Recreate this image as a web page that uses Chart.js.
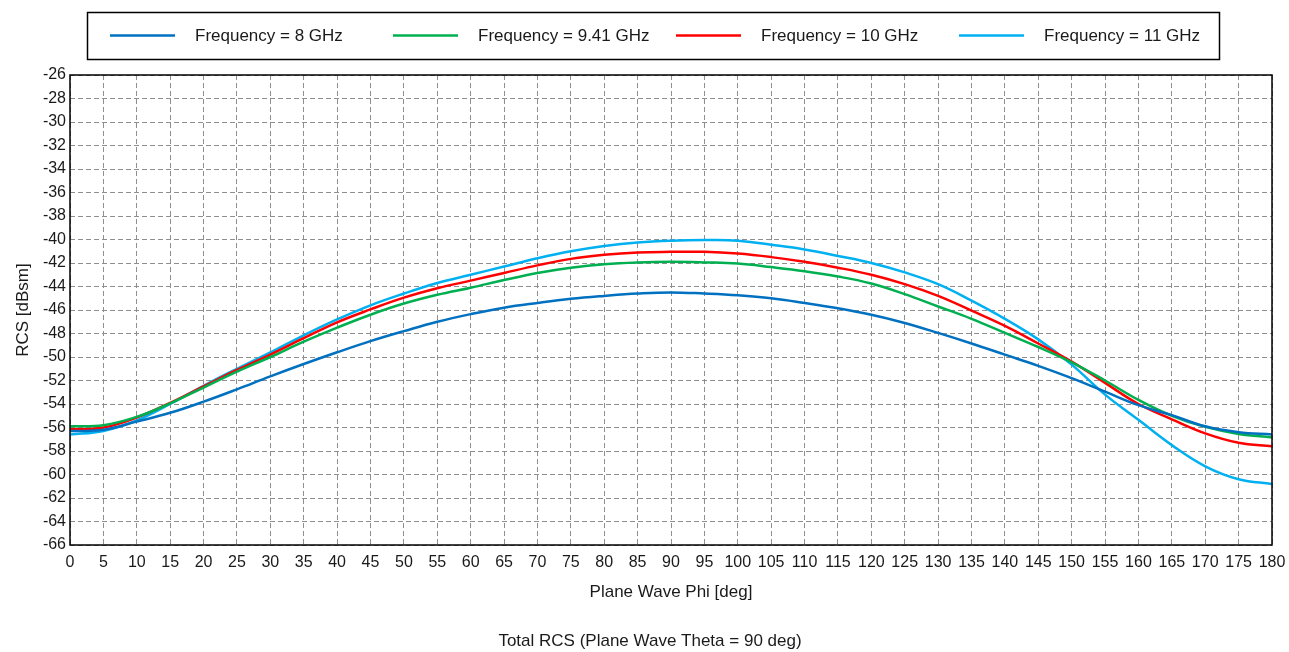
<!DOCTYPE html>
<html>
<head>
<meta charset="utf-8">
<title>Total RCS</title>
<script src="https://cdn.jsdelivr.net/npm/chart.js@4.4.1/dist/chart.umd.min.js"></script>
<style>
  html, body { margin: 0; padding: 0; background: #fff; }
  #wrap { width: 1289px; height: 652px; }
</style>
</head>
<body>
<div id="wrap"><canvas id="rcs" width="1289" height="652"></canvas></div>
<script>
// plane wave phi sweep, step 5 deg
const phi = [0, 5, 10, 15, 20, 25, 30, 35, 40, 45, 50, 55, 60, 65, 70, 75, 80, 85, 90,
             95, 100, 105, 110, 115, 120, 125, 130, 135, 140, 145, 150, 155, 160, 165, 170, 175, 180];

// RCS in dBsm for each frequency
const rcs8 = [-56.3, -56.2, -55.5, -54.75, -53.8, -52.75, -51.65, -50.6, -49.6, -48.65, -47.8, -47.0,
              -46.35, -45.8, -45.4, -45.05, -44.8, -44.6, -44.5, -44.6, -44.75, -45.0, -45.4, -45.85,
              -46.4, -47.1, -47.95, -48.85, -49.8, -50.75, -51.8, -52.95, -54.1, -54.95, -55.9, -56.4, -56.6];
const rcs941 = [-55.9, -55.8, -55.1, -53.95, -52.6, -51.25, -50.0, -48.7, -47.5, -46.4, -45.45, -44.7,
                -44.1, -43.45, -42.85, -42.4, -42.1, -41.95, -41.9, -41.95, -42.05, -42.35, -42.7, -43.15,
                -43.75, -44.65, -45.7, -46.75, -47.95, -49.15, -50.45, -52.0, -53.65, -55.0, -55.95, -56.55, -56.85];
const rcs10 = [-56.15, -56.0, -55.15, -53.9, -52.5, -51.1, -49.8, -48.4, -47.05, -45.95, -44.95, -44.15,
               -43.5, -42.85, -42.2, -41.65, -41.3, -41.1, -41.05, -41.05, -41.2, -41.5, -41.9, -42.4,
               -43.0, -43.8, -44.8, -46.05, -47.35, -48.85, -50.4, -52.2, -54.0, -55.3, -56.5, -57.3, -57.6];
const rcs11 = [-56.6, -56.3, -55.4, -54.0, -52.45, -51.0, -49.6, -48.15, -46.8, -45.6, -44.6, -43.7,
               -43.0, -42.3, -41.6, -41.0, -40.55, -40.25, -40.1, -40.05, -40.1, -40.45, -40.85, -41.4,
               -42.0, -42.8, -43.8, -45.2, -46.75, -48.5, -50.65, -53.2, -55.35, -57.5, -59.3, -60.4, -60.8];

const seriesLabels = ['Frequency = 8 GHz', 'Frequency = 9.41 GHz', 'Frequency = 10 GHz', 'Frequency = 11 GHz'];
const seriesColors = ['#0070C0', '#00B050', '#FF0000', '#00B0F0'];
const footTitle = 'Total RCS (Plane Wave Theta = 90 deg)';

const FONT = "'Liberation Sans', Arial, sans-serif";
const TEXT = '#1a1a1a';

function makeSet(i, values) {
    return {
        label: seriesLabels[i],
        data: phi.map((p, k) => ({ x: p, y: values[k] })),
        borderColor: seriesColors[i],
        backgroundColor: seriesColors[i],
        borderWidth: 2.5,
        pointRadius: 0,
        fill: false,
        tension: 0.4
    };
}

// black frame round the plot area
const framePlugin = {
    id: 'frame',
    afterDatasetsDraw(chart) {
        const a = chart.chartArea;
        const ctx = chart.ctx;
        ctx.save();
        ctx.strokeStyle = '#000';
        ctx.lineWidth = 1.5;
        ctx.strokeRect(a.left, a.top, a.right - a.left, a.bottom - a.top);
        ctx.restore();
    }
};

// boxed legend on top (fixed-width columns) and the caption at the bottom
const boxLegend = {
    id: 'boxLegend',
    afterDraw(chart) {
        const ctx = chart.ctx;
        ctx.save();
        ctx.strokeStyle = '#000';
        ctx.lineWidth = 1.5;
        ctx.strokeRect(87.5, 12.5, 1132, 47);
        ctx.font = '17px ' + FONT;
        ctx.textBaseline = 'middle';
        ctx.fillStyle = TEXT;
        chart.data.datasets.forEach((ds, i) => {
            const x0 = 110 + i * 283;
            ctx.strokeStyle = ds.borderColor;
            ctx.lineWidth = 2.5;
            ctx.beginPath();
            ctx.moveTo(x0, 35.5);
            ctx.lineTo(x0 + 65, 35.5);
            ctx.stroke();
            ctx.fillText(ds.label, x0 + 85, 36);
        });
        ctx.textAlign = 'center';
        ctx.fillText(footTitle, 650, 641);
        ctx.restore();
    }
};

const gridStyle = { color: '#8f8f8f', lineWidth: 1, drawTicks: false };

new Chart(document.getElementById('rcs'), {
    type: 'line',
    data: {
        datasets: [
            makeSet(0, rcs8),
            makeSet(1, rcs941),
            makeSet(2, rcs10),
            makeSet(3, rcs11)
        ]
    },
    options: {
        responsive: false,
        animation: false,
        layout: { padding: { top: 75, right: 17, left: 0, bottom: 21.4 } },
        scales: {
            x: {
                type: 'linear',
                min: 0,
                max: 180,
                grid: gridStyle,
                border: { display: false, dash: [5, 3] },
                ticks: {
                    stepSize: 5,
                    autoSkip: false,
                    maxRotation: 0,
                    padding: 8,
                    color: TEXT,
                    font: { family: FONT, size: 16 }
                },
                title: {
                    display: true,
                    text: 'Plane Wave Phi [deg]',
                    color: TEXT,
                    font: { family: FONT, size: 17 },
                    padding: { top: 0, bottom: 28 }
                },
                afterFit(scale) {
                    scale.height = 85.6;
                    scale.paddingLeft = 0;
                    scale.paddingRight = 0;
                }
            },
            y: {
                min: -66,
                max: -26,
                grid: gridStyle,
                border: { display: false, dash: [5, 3] },
                ticks: {
                    stepSize: 2,
                    autoSkip: false,
                    padding: 4,
                    color: TEXT,
                    font: { family: FONT, size: 16 }
                },
                title: {
                    display: true,
                    text: 'RCS [dBsm]',
                    color: TEXT,
                    font: { family: FONT, size: 17 },
                    padding: { top: 13, bottom: 0 }
                },
                afterFit(scale) { scale.width = 70; }
            }
        },
        plugins: {
            legend: { display: false },
            tooltip: { enabled: false },
            title: { display: false }
        }
    },
    plugins: [framePlugin, boxLegend]
});
</script>
</body>
</html>
